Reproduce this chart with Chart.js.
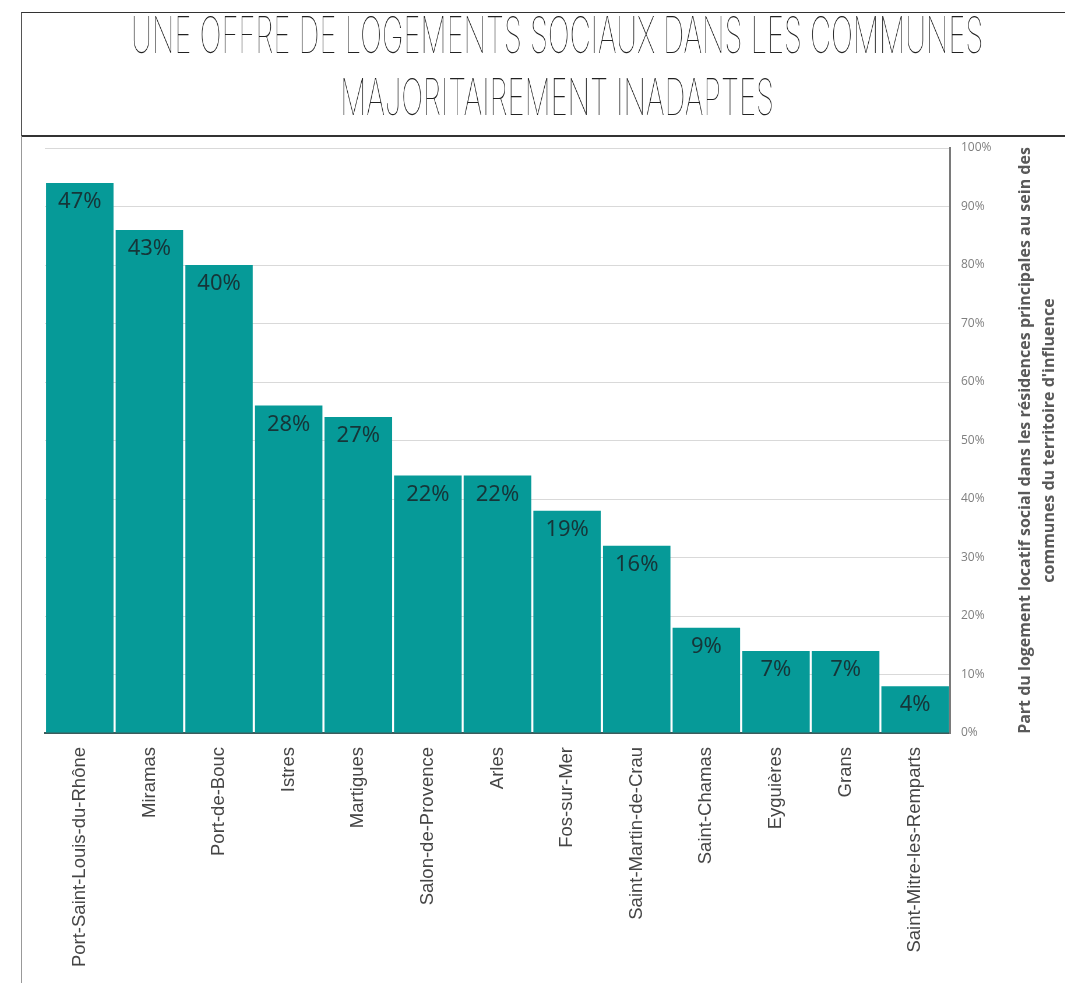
<!DOCTYPE html>
<html lang="fr">
<head>
<meta charset="utf-8">
<script src="https://cdn.jsdelivr.net/npm/chart.js@4.4.1/dist/chart.umd.min.js"></script>
<style>
  html, body { margin: 0; padding: 0; background: #fff; overflow: hidden; }
  #page { position: relative; width: 1065px; height: 983px; }
  #titre {
    position: absolute; left: 21px; top: 12px; width: 1070px; height: 122px;
    border-top: 1px solid #333; border-left: 1px solid #555; border-bottom: 2px solid #333;
  }
  .ligne {
    position: absolute; left: 535px; white-space: nowrap;
    font-family: Inter, "Liberation Sans Narrow", sans-serif; font-weight: 100;
    font-size: 50px; line-height: 50px; color: #222;
    transform-origin: 0 0; will-change: transform;
  }
  #bord { position: absolute; left: 21px; top: 136px; width: 1px; height: 847px; background: #999; }
  #graph { position: absolute; left: 0; top: 0; }
</style>
</head>
<body>
<div id="page">
  <div id="titre">
    <div class="ligne" id="l1" style="top: -3px">UNE OFFRE DE LOGEMENTS SOCIAUX DANS LES COMMUNES</div>
    <div class="ligne" id="l2" style="top: 59px">MAJORITAIREMENT INADAPTES</div>
  </div>
  <div id="bord"></div>
  <canvas id="graph" width="1065" height="983"></canvas>
</div>
<script>
// Données
var communes = ['Port-Saint-Louis-du-Rhône', 'Miramas', 'Port-de-Bouc', 'Istres', 'Martigues',
    'Salon-de-Provence', 'Arles', 'Fos-sur-Mer', 'Saint-Martin-de-Crau', 'Saint-Chamas',
    'Eyguières', 'Grans', 'Saint-Mitre-les-Remparts'];
var parts = [47, 43, 40, 28, 27, 22, 22, 19, 16, 9, 7, 7, 4];
var graduations = ['0%', '10%', '20%', '30%', '40%', '50%', '60%', '70%', '80%', '90%', '100%'];
var titreAxe = ['Part du logement locatif social dans les résidences principales au sein des',
    'communes du territoire d\'influence'];

// Titre : on resserre le texte pour imiter la police étroite
var l1 = document.getElementById('l1');
var l2 = document.getElementById('l2');
var k = 852 / l1.offsetWidth;
[l1, l2].forEach(function (el) {
    var w = el.offsetWidth * k;
    el.style.transform = 'translateX(' + (-w / 2) + 'px) scaleX(' + k + ')';
});

// Étiquettes de valeur dans le haut des barres
var etiquettes = {
    id: 'etiquettes',
    afterDatasetsDraw: function (chart) {
        var ctx = chart.ctx;
        var meta = chart.getDatasetMeta(0);
        ctx.save();
        ctx.font = '22px "Noto Sans", sans-serif';
        ctx.fillStyle = '#163538';
        ctx.textAlign = 'center';
        ctx.textBaseline = 'middle';
        meta.data.forEach(function (bar, i) {
            ctx.fillText(parts[i] + '%', bar.x, bar.y + 19);
        });
        ctx.restore();
    }
};

// Titre de l'axe vertical (lu de bas en haut)
var titreAxeY = {
    id: 'titreAxeY',
    afterDraw: function (chart) {
        var ctx = chart.ctx;
        var area = chart.chartArea;
        var cy = (area.top + area.bottom) / 2;
        ctx.save();
        ctx.font = 'bold 16px "Open Sans", sans-serif';
        ctx.fillStyle = '#595959';
        ctx.textAlign = 'center';
        ctx.textBaseline = 'middle';
        ctx.translate(1025, cy);
        ctx.rotate(-Math.PI / 2);
        ctx.fillText(titreAxe[0], 0, 0);
        ctx.fillText(titreAxe[1], 0, 24);
        ctx.restore();
    }
};

var ctx = document.getElementById('graph').getContext('2d');
var graph = new Chart(ctx, {
    type: 'bar',
    data: {
        labels: communes,
        datasets: [{
            data: parts,
            backgroundColor: '#069a98',
            borderWidth: 0,
            barPercentage: 0.97,
            categoryPercentage: 1
        }]
    },
    options: {
        responsive: false,
        animation: false,
        layout: { padding: { top: 148, left: 45, right: 0, bottom: 0 } },
        plugins: {
            legend: { display: false },
            tooltip: { enabled: false }
        },
        scales: {
            x: {
                grid: { display: false },
                border: { color: '#3d5c5c', width: 2 },
                ticks: {
                    autoSkip: false,
                    maxRotation: 90,
                    minRotation: 90,
                    padding: 6,
                    color: '#454545',
                    font: { family: '"Liberation Sans", Arial, sans-serif', size: 18.5 }
                },
                afterFit: function (scale) { scale.height = 250; }
            },
            y: {
                position: 'right',
                min: 0,
                max: 50,
                grid: { color: '#d9d9d9', drawTicks: false },
                border: { color: '#7a7a7a', width: 2 },
                ticks: {
                    stepSize: 5,
                    padding: 11,
                    color: '#7f7f7f',
                    font: { family: '"Open Sans", sans-serif', size: 12 },
                    callback: function (v, i) { return graduations[i]; }
                },
                afterFit: function (scale) { scale.width = 115; }
            }
        }
    },
    plugins: [etiquettes, titreAxeY]
});
</script>
</body>
</html>
